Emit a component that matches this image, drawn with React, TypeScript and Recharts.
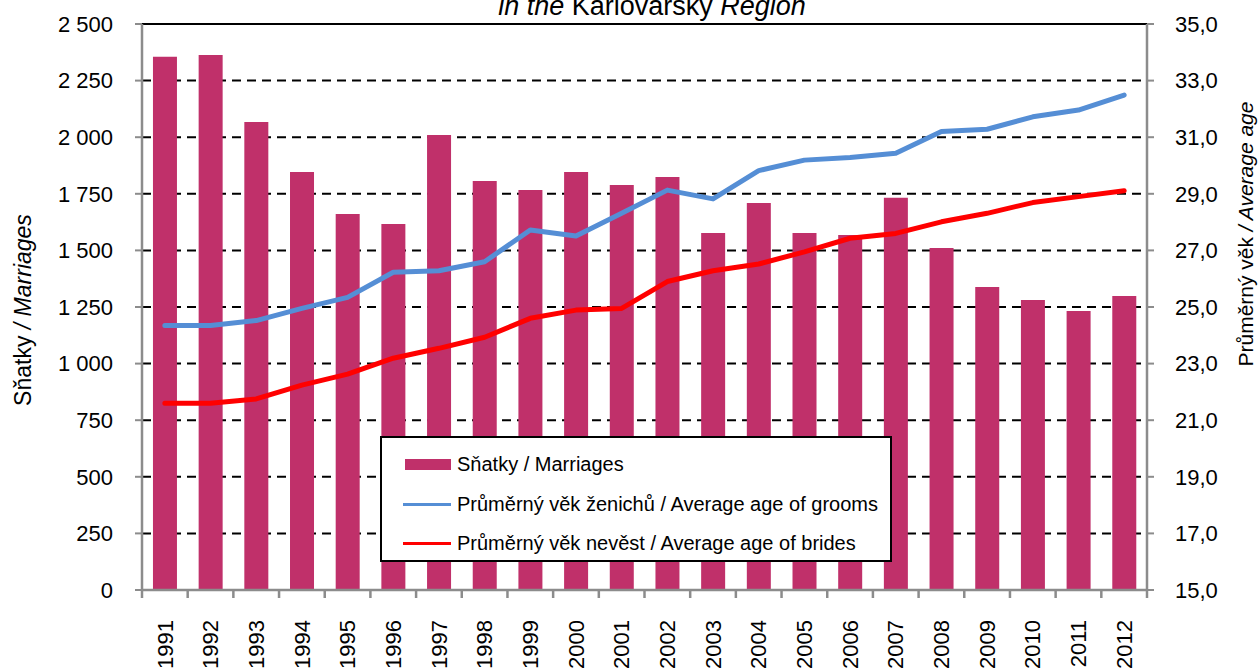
import { ComposedChart, Bar, Line, XAxis, YAxis, CartesianGrid, Legend, ReferenceLine } from 'recharts';

const years = ['1991', '1992', '1993', '1994', '1995', '1996', '1997', '1998', '1999', '2000', '2001',
  '2002', '2003', '2004', '2005', '2006', '2007', '2008', '2009', '2010', '2011', '2012'];
const marriages = [2355, 2363, 2067, 1846, 1661, 1617, 2010, 1806, 1767, 1846, 1789,
  1824, 1577, 1709, 1577, 1568, 1733, 1511, 1338, 1281, 1232, 1299];
const groomsAge = [24.35, 24.35, 24.52, 24.95, 25.34, 26.23, 26.28, 26.6, 27.72, 27.51, 28.31,
  29.13, 28.82, 29.82, 30.19, 30.28, 30.43, 31.2, 31.28, 31.72, 31.96, 32.49];
const bridesAge = [21.6, 21.6, 21.75, 22.24, 22.63, 23.19, 23.54, 23.93, 24.6, 24.89, 24.95,
  25.9, 26.28, 26.52, 26.95, 27.43, 27.6, 28.01, 28.31, 28.69, 28.9, 29.11];
const leftTicks = [0, 250, 500, 750, 1000, 1250, 1500, 1750, 2000, 2250, 2500];
const rightTicks = [15, 17, 19, 21, 23, 25, 27, 29, 31, 33, 35];

const seriesNames = {
  marriages: 'Sňatky / Marriages',
  grooms: 'Průměrný věk ženichů / Average age of grooms',
  brides: 'Průměrný věk nevěst / Average age of brides',
};

const data = years.map((year, i) => ({
  year,
  marriages: marriages[i],
  grooms: groomsAge[i],
  brides: bridesAge[i],
}));

const W = 1258;
const H = 669;
const LEFT_W = 142;
const RIGHT_W = 111;
const TOP = 24;
const X_H = 79;
const PLOT_W = W - LEFT_W - RIGHT_W;

const FONT = '"Liberation Sans", Arial, sans-serif';
const AXIS_GREY = '#8c8c8c';
const BAR_COLOR = '#C0306A';
const BLUE = '#558ED5';
const RED = '#FF0000';

const fmtThousands = (v: number) =>
  v >= 1000 ? `${Math.floor(v / 1000)} ${String(v % 1000).padStart(3, '0')}` : String(v);
const fmtAge = (v: number) => v.toFixed(1).replace('.', ',');

// category ticks drawn between the bars, like the original
const YearTick = (props: any) => {
  const { x, y, payload, index } = props;
  const band = PLOT_W / years.length;
  const axisY = y - 30;
  return (
    <g>
      <line x1={x - band / 2} y1={axisY} x2={x - band / 2} y2={axisY + 8} stroke={AXIS_GREY} strokeWidth={2.5} />
      {index === years.length - 1 && (
        <line x1={x + band / 2} y1={axisY} x2={x + band / 2} y2={axisY + 8} stroke={AXIS_GREY} strokeWidth={2.5} />
      )}
      <text
        x={x}
        y={y}
        dy="0.35em"
        transform={`rotate(-90, ${x}, ${y})`}
        textAnchor="end"
        fontSize={22}
        fontFamily={FONT}
        fill="#000"
      >
        {payload.value}
      </text>
    </g>
  );
};

const LegendBox = () => (
  <div
    style={{
      width: 512,
      height: 126,
      boxSizing: 'border-box',
      border: '2px solid #000',
      background: '#fff',
      fontFamily: FONT,
      fontSize: 20,
      color: '#000',
      position: 'relative',
    }}
  >
    {[
      { key: 'marriages', kind: 'bar', color: BAR_COLOR, top: 14 },
      { key: 'grooms', kind: 'line', color: BLUE, top: 54 },
      { key: 'brides', kind: 'line', color: RED, top: 93 },
    ].map((item) => (
      <div key={item.key} style={{ position: 'absolute', left: 0, top: item.top, height: 24, display: 'flex', alignItems: 'center' }}>
        <div
          style={{
            marginLeft: item.kind === 'bar' ? 23 : 21,
            width: item.kind === 'bar' ? 46 : 48,
            height: item.kind === 'bar' ? 11 : 3,
            background: item.color,
          }}
        />
        <span style={{ marginLeft: 6, whiteSpace: 'nowrap' }}>
          {seriesNames[item.key as keyof typeof seriesNames]}
        </span>
      </div>
    ))}
  </div>
);

export default function App() {
  return (
    <div style={{ position: 'absolute', left: 0, top: 0, width: W, height: H, background: '#fff', overflow: 'hidden' }}>
      <ComposedChart
        width={W}
        height={H}
        data={data}
        margin={{ top: TOP, right: 0, bottom: 0, left: 0 }}
        barCategoryGap="24%"
      >
        <CartesianGrid
          yAxisId="left"
          vertical={false}
          stroke="#000"
          strokeWidth={2}
          strokeDasharray="9 6"
        />
        <XAxis
          dataKey="year"
          height={X_H}
          interval={0}
          axisLine={{ stroke: AXIS_GREY, strokeWidth: 2.5 }}
          tickLine={false}
          tickSize={8}
          tickMargin={22}
          tick={<YearTick />}
        />
        <YAxis
          yAxisId="left"
          width={LEFT_W}
          domain={[0, 2500]}
          ticks={leftTicks}
          interval={0}
          tickFormatter={fmtThousands}
          axisLine={{ stroke: AXIS_GREY, strokeWidth: 2.5 }}
          tickLine={{ stroke: AXIS_GREY, strokeWidth: 2 }}
          tickSize={7}
          tickMargin={22}
          tick={{ fill: '#000', fontSize: 22, fontFamily: FONT }}
        />
        <YAxis
          yAxisId="right"
          orientation="right"
          width={RIGHT_W}
          domain={[15, 35]}
          ticks={rightTicks}
          interval={0}
          tickFormatter={fmtAge}
          axisLine={{ stroke: AXIS_GREY, strokeWidth: 2.5 }}
          tickLine={{ stroke: AXIS_GREY, strokeWidth: 2 }}
          tickSize={7}
          tickMargin={21}
          tick={{ fill: '#000', fontSize: 22, fontFamily: FONT }}
        />
        <ReferenceLine yAxisId="left" y={2500} stroke="#000" strokeWidth={2} />
        <Bar yAxisId="left" dataKey="marriages" name={seriesNames.marriages} fill={BAR_COLOR} isAnimationActive={false} />
        <Line
          yAxisId="right"
          dataKey="grooms"
          name={seriesNames.grooms}
          stroke={BLUE}
          strokeWidth={5}
          strokeLinecap="round"
          strokeLinejoin="round"
          dot={false}
          type="linear"
          isAnimationActive={false}
        />
        <Line
          yAxisId="right"
          dataKey="brides"
          name={seriesNames.brides}
          stroke={RED}
          strokeWidth={5}
          strokeLinecap="round"
          strokeLinejoin="round"
          dot={false}
          type="linear"
          isAnimationActive={false}
        />
        <Legend
          layout="horizontal"
          verticalAlign="middle"
          content={<LegendBox />}
          wrapperStyle={{ position: 'absolute', left: 380, top: 436, width: 512, height: 126 }}
        />
      </ComposedChart>
      <svg
        width={W}
        height={H}
        style={{ position: 'absolute', left: 0, top: 0, pointerEvents: 'none' }}
        fontFamily={FONT}
      >
        <text x={652} y={15} textAnchor="middle" fontSize={27} fill="#000">
          <tspan fontStyle="italic">in the</tspan> Karlovarský <tspan fontStyle="italic">Region</tspan>
        </text>
        <text x={31} y={310} textAnchor="middle" fontSize={23} fill="#000" transform="rotate(-90, 31, 310)">
          Sňatky <tspan fontStyle="italic">/ Marriages</tspan>
        </text>
        <text x={1253} y={234} textAnchor="middle" fontSize={21} fill="#000" transform="rotate(-90, 1253, 234)">
          Průměrný věk <tspan fontStyle="italic">/ Average age</tspan>
        </text>
      </svg>
    </div>
  );
}
